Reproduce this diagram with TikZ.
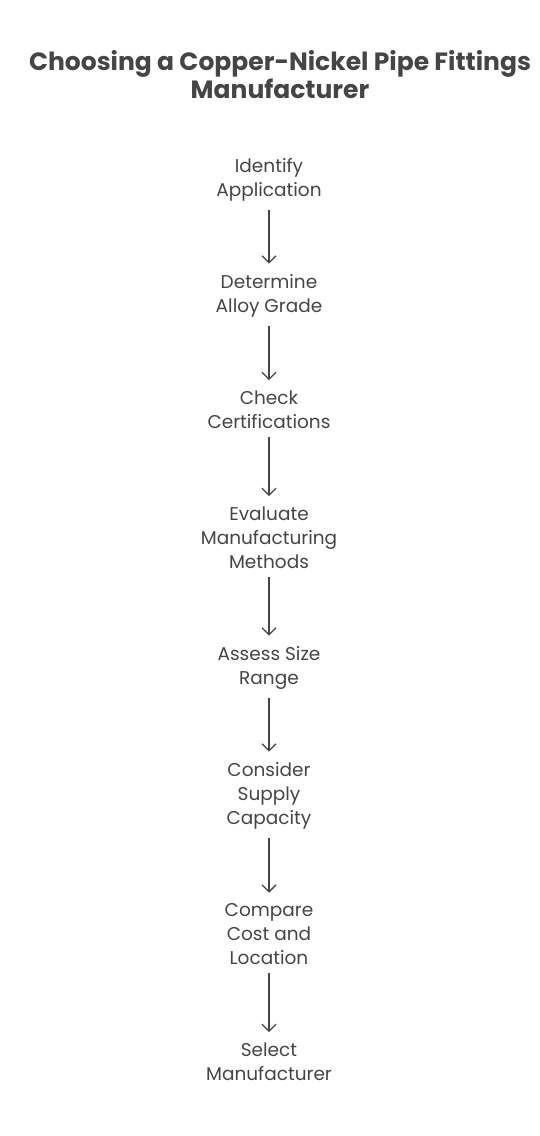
\documentclass[tikz,border=0pt]{standalone}
\usepackage{fontspec}
\setmainfont{Poppins}
\usepackage{xcolor}
\usepackage{tikz}
\usetikzlibrary{arrows.meta}
\definecolor{inkcolor}{HTML}{454545}

\begin{document}
\begin{tikzpicture}[
    x=1pt, y=-1pt,
    every node/.style={text=inkcolor, align=center, inner sep=0pt,
                       anchor=base, font=\fontsize{18.5}{24}\selectfont},
    titletext/.style={font=\bfseries\fontsize{25}{28}\selectfont},
    flowarrow/.style={draw=inkcolor, line width=1.3pt,
                      -{Straight Barb[length=7pt,width=14pt]},
                      shorten <=9pt, shorten >=10pt}
]
\useasboundingbox (0,0) rectangle (540,1136);
\node[titletext] (title) at (280,98) {Choosing a Copper-Nickel Pipe Fittings\\Manufacturer};

\node (identify) at (269,196) {Identify\\Application};
\node (alloy) at (269,312) {Determine\\Alloy Grade};
\node (certs) at (269,428) {Check\\Certifications};
\node (methods) at (269,568) {Evaluate\\Manufacturing\\Methods};
\node (size) at (269,684) {Assess Size\\Range};
\node (supply) at (269,824) {Consider\\Supply\\Capacity};
\node (cost) at (269,964) {Compare\\Cost and\\Location};
\node (select) at (269,1080) {Select\\Manufacturer};

% steps, top to bottom
\foreach \a/\b in {identify/alloy, alloy/certs, certs/methods, methods/size,
                   size/supply, supply/cost, cost/select}
    \draw[flowarrow] (\a.south) -- (\b.north);
\end{tikzpicture}
\end{document}
